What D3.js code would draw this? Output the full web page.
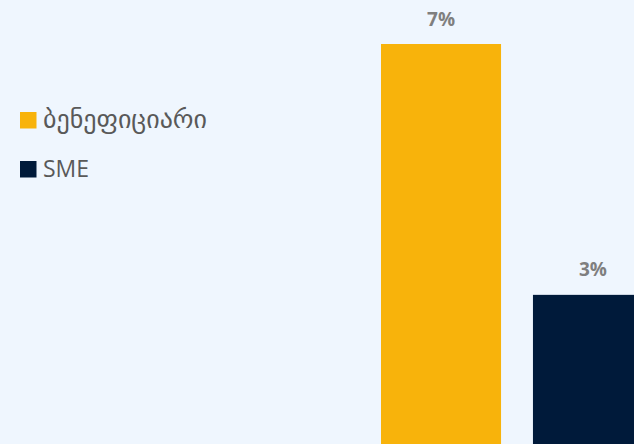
<!DOCTYPE html>
<html>
<head>
<meta charset="utf-8">
<script src="https://cdn.jsdelivr.net/npm/d3@7"></script>
<style>
  html, body { margin: 0; padding: 0; background: #EFF6FE; }
  svg { display: block; }
</style>
</head>
<body>
<svg id="chart" width="634" height="444"></svg>
<script>
// Share of each group
const categories = ["ბენეფიციარი", "SME"];
const values = [7, 3];
const valueLabels = ["7%", "3%"];
const colors = ["#F8B30B", "#001A3A"];

const svg = d3.select("#chart");
const W = 634, H = 444;

svg.append("rect").attr("width", W).attr("height", H).attr("fill", "#EFF6FE");

// Baseline sits just below the visible area
const y = d3.scaleLinear().domain([0, 7]).range([483, 44]);
const x = d3.scaleBand().domain(categories).range([381, 653]).paddingInner(0.21).paddingOuter(0);

const bars = svg.append("g");
bars.selectAll("rect")
  .data(categories)
  .join("rect")
  .attr("x", d => x(d))
  .attr("y", (d, i) => y(values[i]))
  .attr("width", x.bandwidth())
  .attr("height", (d, i) => y(0) - y(values[i]))
  .attr("fill", (d, i) => colors[i]);

bars.selectAll("text")
  .data(categories)
  .join("text")
  .attr("x", d => x(d) + x.bandwidth() / 2)
  .attr("y", (d, i) => y(values[i]) - 18.5)
  .attr("text-anchor", "middle")
  .attr("font-family", "'Open Sans', 'DejaVu Sans', sans-serif")
  .attr("font-weight", "bold")
  .attr("font-size", 19)
  .attr("fill", "#7F7F7F")
  .text((d, i) => valueLabels[i]);

// Legend
const legend = svg.append("g");
const items = legend.selectAll("g")
  .data(categories)
  .join("g")
  .attr("transform", (d, i) => `translate(20, ${112 + i * 49})`);

items.append("rect")
  .attr("width", 16.5)
  .attr("height", 16.5)
  .attr("fill", (d, i) => colors[i]);

items.append("text")
  .attr("x", 23)
  .attr("y", 16)
  .attr("font-family", "'Open Sans', 'DejaVu Sans', sans-serif")
  .attr("font-size", (d, i) => i === 0 ? 26 : 23)
  .attr("fill", "#595959")
  .text(d => d);
</script>
</body>
</html>
